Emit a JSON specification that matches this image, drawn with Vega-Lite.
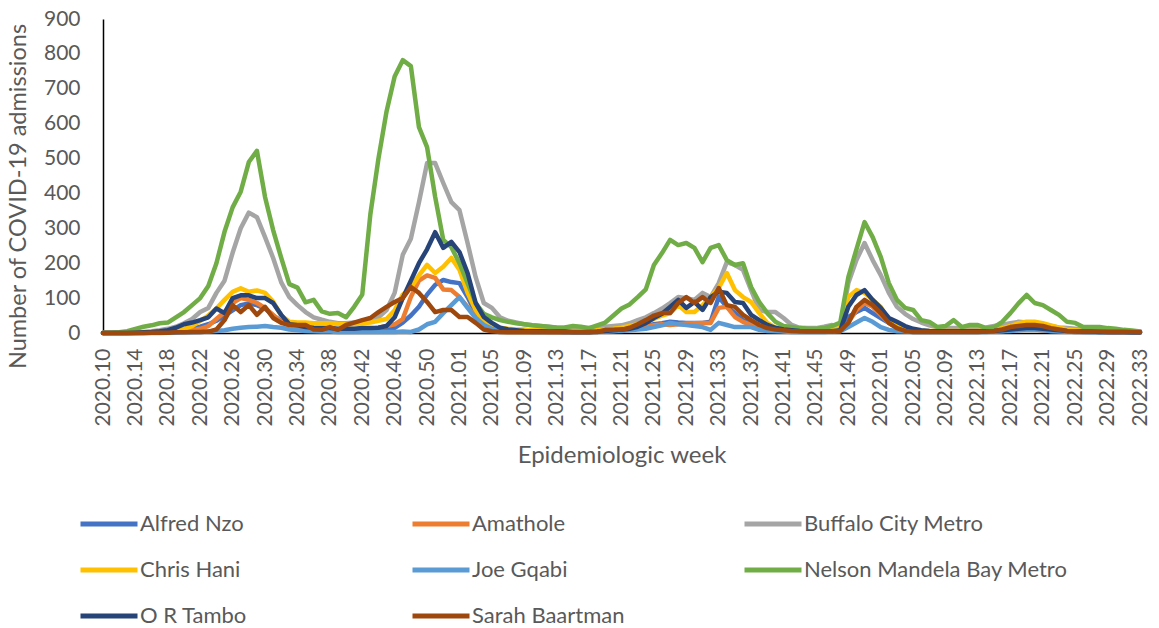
{
"$schema":"https://vega.github.io/schema/vega-lite/v6.json",
"autosize":{"type":"none"},
"padding":{"left":103,"top":19,"right":19,"bottom":295},
"width":1037,"height":314,
"background":"white",
"config":{"view":{"stroke":null},"font":"Lato"},
"datasets":{
"names":[{"k":"a","name":"Alfred Nzo"},{"k":"m","name":"Amathole"},{"k":"b","name":"Buffalo City Metro"},{"k":"c","name":"Chris Hani"},{"k":"j","name":"Joe Gqabi"},{"k":"n","name":"Nelson Mandela Bay Metro"},{"k":"o","name":"O R Tambo"},{"k":"s","name":"Sarah Baartman"}],
"weeks":[
{"w":"2020.10","a":0,"m":0,"b":0,"c":0,"j":0,"n":0,"o":0,"s":0},
{"w":"2020.11","a":0,"m":0,"b":0,"c":0,"j":0,"n":1,"o":0,"s":0},
{"w":"2020.12","a":0,"m":0,"b":0,"c":0,"j":0,"n":2,"o":0,"s":0},
{"w":"2020.13","a":0,"m":0,"b":1,"c":0,"j":0,"n":5,"o":0,"s":0},
{"w":"2020.14","a":0,"m":0,"b":2,"c":1,"j":0,"n":12,"o":1,"s":0},
{"w":"2020.15","a":1,"m":0,"b":3,"c":1,"j":0,"n":18,"o":2,"s":0},
{"w":"2020.16","a":1,"m":1,"b":5,"c":2,"j":0,"n":22,"o":3,"s":1},
{"w":"2020.17","a":2,"m":1,"b":8,"c":3,"j":0,"n":28,"o":5,"s":1},
{"w":"2020.18","a":3,"m":2,"b":12,"c":5,"j":1,"n":30,"o":8,"s":1},
{"w":"2020.19","a":5,"m":3,"b":18,"c":8,"j":1,"n":45,"o":15,"s":2},
{"w":"2020.20","a":8,"m":5,"b":28,"c":12,"j":2,"n":60,"o":25,"s":2},
{"w":"2020.21","a":12,"m":8,"b":40,"c":20,"j":2,"n":80,"o":30,"s":3},
{"w":"2020.22","a":18,"m":12,"b":60,"c":35,"j":3,"n":100,"o":37,"s":3},
{"w":"2020.23","a":25,"m":20,"b":72,"c":50,"j":4,"n":135,"o":45,"s":4},
{"w":"2020.24","a":35,"m":40,"b":115,"c":70,"j":6,"n":200,"o":70,"s":10},
{"w":"2020.25","a":50,"m":60,"b":150,"c":95,"j":8,"n":290,"o":57,"s":37},
{"w":"2020.26","a":65,"m":86,"b":230,"c":118,"j":12,"n":360,"o":100,"s":80},
{"w":"2020.27","a":80,"m":100,"b":300,"c":128,"j":15,"n":405,"o":108,"s":60},
{"w":"2020.28","a":85,"m":95,"b":345,"c":118,"j":17,"n":490,"o":108,"s":80},
{"w":"2020.29","a":80,"m":86,"b":332,"c":122,"j":18,"n":522,"o":100,"s":52},
{"w":"2020.30","a":70,"m":72,"b":275,"c":115,"j":20,"n":390,"o":100,"s":75},
{"w":"2020.31","a":50,"m":52,"b":215,"c":90,"j":17,"n":295,"o":86,"s":43},
{"w":"2020.32","a":35,"m":32,"b":145,"c":50,"j":15,"n":215,"o":52,"s":29},
{"w":"2020.33","a":25,"m":22,"b":103,"c":32,"j":10,"n":140,"o":25,"s":23},
{"w":"2020.34","a":18,"m":17,"b":80,"c":30,"j":8,"n":130,"o":22,"s":23},
{"w":"2020.35","a":15,"m":15,"b":60,"c":30,"j":6,"n":88,"o":17,"s":23},
{"w":"2020.36","a":12,"m":12,"b":45,"c":28,"j":5,"n":95,"o":15,"s":10},
{"w":"2020.37","a":10,"m":10,"b":38,"c":28,"j":4,"n":62,"o":14,"s":9},
{"w":"2020.38","a":10,"m":10,"b":32,"c":28,"j":4,"n":55,"o":14,"s":17},
{"w":"2020.39","a":8,"m":8,"b":28,"c":26,"j":3,"n":57,"o":12,"s":9},
{"w":"2020.40","a":8,"m":8,"b":28,"c":25,"j":3,"n":45,"o":12,"s":23},
{"w":"2020.41","a":8,"m":8,"b":30,"c":25,"j":3,"n":75,"o":12,"s":30},
{"w":"2020.42","a":8,"m":10,"b":32,"c":28,"j":3,"n":110,"o":14,"s":37},
{"w":"2020.43","a":10,"m":12,"b":35,"c":30,"j":3,"n":340,"o":14,"s":43},
{"w":"2020.44","a":12,"m":15,"b":45,"c":35,"j":3,"n":500,"o":15,"s":60},
{"w":"2020.45","a":12,"m":20,"b":66,"c":40,"j":3,"n":635,"o":20,"s":75},
{"w":"2020.46","a":15,"m":25,"b":115,"c":65,"j":3,"n":735,"o":45,"s":89},
{"w":"2020.47","a":30,"m":40,"b":224,"c":110,"j":4,"n":782,"o":100,"s":100},
{"w":"2020.48","a":50,"m":103,"b":270,"c":130,"j":3,"n":765,"o":150,"s":132},
{"w":"2020.49","a":75,"m":150,"b":375,"c":165,"j":10,"n":590,"o":200,"s":115},
{"w":"2020.50","a":110,"m":165,"b":487,"c":195,"j":25,"n":533,"o":240,"s":89},
{"w":"2020.51","a":138,"m":158,"b":487,"c":172,"j":32,"n":390,"o":289,"s":60},
{"w":"2020.52","a":152,"m":125,"b":430,"c":190,"j":57,"n":267,"o":244,"s":66},
{"w":"2020.53","a":146,"m":123,"b":375,"c":215,"j":80,"n":246,"o":261,"s":66},
{"w":"2021.01","a":143,"m":103,"b":352,"c":181,"j":103,"n":200,"o":232,"s":46},
{"w":"2021.02","a":103,"m":75,"b":258,"c":115,"j":72,"n":143,"o":172,"s":46},
{"w":"2021.03","a":57,"m":46,"b":160,"c":66,"j":43,"n":86,"o":86,"s":29},
{"w":"2021.04","a":29,"m":23,"b":86,"c":32,"j":23,"n":55,"o":46,"s":10},
{"w":"2021.05","a":15,"m":12,"b":72,"c":20,"j":12,"n":45,"o":29,"s":5},
{"w":"2021.06","a":10,"m":8,"b":45,"c":15,"j":8,"n":37,"o":15,"s":3},
{"w":"2021.07","a":8,"m":6,"b":35,"c":12,"j":6,"n":32,"o":10,"s":2},
{"w":"2021.08","a":6,"m":5,"b":30,"c":10,"j":5,"n":28,"o":8,"s":2},
{"w":"2021.09","a":5,"m":5,"b":25,"c":10,"j":4,"n":25,"o":6,"s":2},
{"w":"2021.10","a":5,"m":4,"b":22,"c":8,"j":3,"n":22,"o":5,"s":2},
{"w":"2021.11","a":4,"m":4,"b":20,"c":8,"j":3,"n":20,"o":5,"s":2},
{"w":"2021.12","a":4,"m":3,"b":18,"c":7,"j":3,"n":18,"o":4,"s":2},
{"w":"2021.13","a":4,"m":3,"b":16,"c":6,"j":3,"n":15,"o":4,"s":2},
{"w":"2021.14","a":3,"m":3,"b":15,"c":6,"j":2,"n":16,"o":4,"s":2},
{"w":"2021.15","a":3,"m":3,"b":14,"c":6,"j":2,"n":20,"o":3,"s":2},
{"w":"2021.16","a":3,"m":3,"b":14,"c":6,"j":2,"n":18,"o":3,"s":2},
{"w":"2021.17","a":3,"m":3,"b":14,"c":6,"j":2,"n":14,"o":3,"s":2},
{"w":"2021.18","a":4,"m":4,"b":16,"c":8,"j":3,"n":22,"o":4,"s":3},
{"w":"2021.19","a":5,"m":5,"b":18,"c":10,"j":4,"n":30,"o":6,"s":9},
{"w":"2021.20","a":8,"m":6,"b":20,"c":12,"j":5,"n":50,"o":8,"s":9},
{"w":"2021.21","a":10,"m":8,"b":22,"c":15,"j":6,"n":70,"o":10,"s":9},
{"w":"2021.22","a":12,"m":10,"b":28,"c":20,"j":8,"n":82,"o":12,"s":15},
{"w":"2021.23","a":15,"m":14,"b":37,"c":25,"j":10,"n":103,"o":18,"s":25},
{"w":"2021.24","a":20,"m":18,"b":45,"c":32,"j":12,"n":125,"o":28,"s":37},
{"w":"2021.25","a":25,"m":22,"b":57,"c":40,"j":17,"n":195,"o":43,"s":50},
{"w":"2021.26","a":28,"m":25,"b":70,"c":50,"j":22,"n":229,"o":55,"s":57},
{"w":"2021.27","a":32,"m":23,"b":86,"c":57,"j":29,"n":267,"o":75,"s":57},
{"w":"2021.28","a":30,"m":25,"b":103,"c":80,"j":25,"n":252,"o":95,"s":86},
{"w":"2021.29","a":29,"m":27,"b":100,"c":60,"j":23,"n":258,"o":72,"s":103},
{"w":"2021.30","a":29,"m":28,"b":95,"c":60,"j":20,"n":244,"o":89,"s":86},
{"w":"2021.31","a":29,"m":29,"b":115,"c":80,"j":17,"n":203,"o":66,"s":103},
{"w":"2021.32","a":32,"m":29,"b":103,"c":103,"j":9,"n":244,"o":103,"s":86},
{"w":"2021.33","a":103,"m":72,"b":143,"c":129,"j":29,"n":252,"o":118,"s":129},
{"w":"2021.34","a":75,"m":75,"b":203,"c":172,"j":23,"n":209,"o":115,"s":80},
{"w":"2021.35","a":57,"m":46,"b":195,"c":123,"j":17,"n":195,"o":89,"s":75},
{"w":"2021.36","a":37,"m":32,"b":181,"c":103,"j":17,"n":200,"o":86,"s":52},
{"w":"2021.37","a":29,"m":23,"b":123,"c":89,"j":17,"n":132,"o":52,"s":37},
{"w":"2021.38","a":17,"m":15,"b":66,"c":57,"j":9,"n":89,"o":37,"s":23},
{"w":"2021.39","a":12,"m":10,"b":60,"c":29,"j":6,"n":57,"o":23,"s":14},
{"w":"2021.40","a":8,"m":8,"b":60,"c":15,"j":5,"n":32,"o":15,"s":10},
{"w":"2021.41","a":6,"m":6,"b":43,"c":10,"j":4,"n":20,"o":10,"s":8},
{"w":"2021.42","a":5,"m":5,"b":23,"c":8,"j":3,"n":17,"o":8,"s":6},
{"w":"2021.43","a":4,"m":4,"b":15,"c":6,"j":3,"n":14,"o":6,"s":5},
{"w":"2021.44","a":4,"m":4,"b":14,"c":6,"j":3,"n":12,"o":5,"s":5},
{"w":"2021.45","a":4,"m":4,"b":14,"c":6,"j":3,"n":12,"o":5,"s":5},
{"w":"2021.46","a":4,"m":4,"b":18,"c":6,"j":3,"n":14,"o":5,"s":5},
{"w":"2021.47","a":5,"m":5,"b":23,"c":8,"j":4,"n":20,"o":5,"s":5},
{"w":"2021.48","a":8,"m":8,"b":14,"c":15,"j":5,"n":30,"o":8,"s":6},
{"w":"2021.49","a":46,"m":30,"b":143,"c":103,"j":17,"n":160,"o":75,"s":29},
{"w":"2021.50","a":60,"m":66,"b":209,"c":123,"j":30,"n":240,"o":109,"s":75},
{"w":"2021.51","a":72,"m":86,"b":258,"c":115,"j":43,"n":318,"o":123,"s":95},
{"w":"2021.52","a":57,"m":75,"b":209,"c":95,"j":32,"n":275,"o":95,"s":80},
{"w":"2022.01","a":43,"m":52,"b":166,"c":75,"j":17,"n":218,"o":72,"s":57},
{"w":"2022.02","a":29,"m":29,"b":115,"c":37,"j":9,"n":143,"o":43,"s":29},
{"w":"2022.03","a":15,"m":15,"b":75,"c":20,"j":5,"n":95,"o":32,"s":14},
{"w":"2022.04","a":10,"m":10,"b":55,"c":12,"j":4,"n":72,"o":20,"s":6},
{"w":"2022.05","a":6,"m":6,"b":40,"c":8,"j":3,"n":66,"o":12,"s":3},
{"w":"2022.06","a":5,"m":5,"b":30,"c":6,"j":3,"n":37,"o":8,"s":3},
{"w":"2022.07","a":4,"m":4,"b":22,"c":6,"j":3,"n":32,"o":6,"s":3},
{"w":"2022.08","a":4,"m":4,"b":16,"c":6,"j":3,"n":17,"o":5,"s":3},
{"w":"2022.09","a":4,"m":4,"b":14,"c":6,"j":3,"n":20,"o":5,"s":3},
{"w":"2022.10","a":4,"m":4,"b":14,"c":6,"j":3,"n":37,"o":5,"s":3},
{"w":"2022.11","a":4,"m":4,"b":14,"c":6,"j":3,"n":17,"o":5,"s":3},
{"w":"2022.12","a":4,"m":4,"b":14,"c":6,"j":3,"n":23,"o":5,"s":3},
{"w":"2022.13","a":4,"m":4,"b":14,"c":6,"j":3,"n":23,"o":5,"s":3},
{"w":"2022.14","a":4,"m":4,"b":16,"c":8,"j":3,"n":14,"o":5,"s":4},
{"w":"2022.15","a":5,"m":5,"b":20,"c":10,"j":4,"n":17,"o":6,"s":6},
{"w":"2022.16","a":6,"m":6,"b":24,"c":14,"j":5,"n":32,"o":8,"s":10},
{"w":"2022.17","a":8,"m":8,"b":28,"c":20,"j":6,"n":57,"o":10,"s":17},
{"w":"2022.18","a":10,"m":10,"b":32,"c":28,"j":8,"n":85,"o":12,"s":20},
{"w":"2022.19","a":12,"m":10,"b":30,"c":32,"j":10,"n":109,"o":14,"s":23},
{"w":"2022.20","a":12,"m":10,"b":28,"c":32,"j":10,"n":86,"o":14,"s":23},
{"w":"2022.21","a":10,"m":8,"b":24,"c":28,"j":8,"n":80,"o":12,"s":20},
{"w":"2022.22","a":8,"m":6,"b":20,"c":22,"j":6,"n":66,"o":10,"s":14},
{"w":"2022.23","a":6,"m":5,"b":16,"c":15,"j":5,"n":52,"o":8,"s":10},
{"w":"2022.24","a":5,"m":4,"b":14,"c":10,"j":4,"n":32,"o":6,"s":6},
{"w":"2022.25","a":4,"m":3,"b":12,"c":8,"j":3,"n":29,"o":5,"s":5},
{"w":"2022.26","a":3,"m":3,"b":10,"c":6,"j":3,"n":17,"o":4,"s":4},
{"w":"2022.27","a":3,"m":3,"b":9,"c":5,"j":2,"n":17,"o":4,"s":4},
{"w":"2022.28","a":3,"m":3,"b":8,"c":5,"j":2,"n":17,"o":3,"s":4},
{"w":"2022.29","a":3,"m":2,"b":8,"c":4,"j":2,"n":14,"o":3,"s":3},
{"w":"2022.30","a":2,"m":2,"b":7,"c":4,"j":2,"n":12,"o":3,"s":3},
{"w":"2022.31","a":2,"m":2,"b":6,"c":3,"j":2,"n":9,"o":3,"s":3},
{"w":"2022.32","a":2,"m":2,"b":5,"c":3,"j":1,"n":7,"o":2,"s":3},
{"w":"2022.33","a":2,"m":2,"b":5,"c":3,"j":1,"n":4,"o":2,"s":2}
]},
"data":{"name":"weeks"},
"transform":[
{"fold":["a","m","b","c","j","n","o","s"],"as":["key","value"]},
{"lookup":"key","from":{"data":{"name":"names"},"key":"k","fields":["name"]}}
],
"mark":{"type":"line","strokeWidth":4.5,"strokeJoin":"round","strokeCap":"round"},
"encoding":{
"x":{"field":"w","type":"ordinal","scale":{"type":"point","padding":0},
"axis":{"title":"Epidemiologic week","values":["2020.10","2020.14","2020.18","2020.22","2020.26","2020.30","2020.34","2020.38","2020.42","2020.46","2020.50","2021.01","2021.05","2021.09","2021.13","2021.17","2021.21","2021.25","2021.29","2021.33","2021.37","2021.41","2021.45","2021.49","2022.01","2022.05","2022.09","2022.13","2022.17","2022.21","2022.25","2022.29","2022.33"],
"labelAngle":-90,"labelFontSize":21,"labelColor":"#595959","labelPadding":15,"ticks":false,"grid":false,"domainColor":"#000000","domainWidth":1.5,
"titleFontSize":24,"titleFontWeight":"normal","titleColor":"#595959","titleY":122,"titleBaseline":"middle"}},
"y":{"field":"value","type":"quantitative","scale":{"domain":[0,900]},
"axis":{"title":"Number of COVID-19 admissions","values":[0,100,200,300,400,500,600,700,800,900],"labelFontSize":21,"labelColor":"#595959","labelPadding":23,"ticks":false,"grid":false,"domainColor":"#000000","domainWidth":1.5,
"titleFontSize":23.5,"titleFontWeight":"normal","titleColor":"#595959","titleX":-85,"titleY":177,"titleAngle":-90,"titleBaseline":"middle","titleAlign":"center"}},
"color":{"field":"name","type":"nominal",
"scale":{"domain":["Alfred Nzo","Amathole","Buffalo City Metro","Chris Hani","Joe Gqabi","Nelson Mandela Bay Metro","O R Tambo","Sarah Baartman"],"range":["#4472C4","#ED7D31","#A5A5A5","#FFC000","#5B9BD5","#70AD47","#264478","#9E480E"]},
"legend":{"title":null,"orient":"none","direction":"horizontal","legendX":-25,"legendY":474,"columns":3,"gridAlign":"all","columnPadding":-2,"rowPadding":4,"symbolType":"stroke","symbolSize":3249,"symbolStrokeWidth":5,"labelFontSize":22,"labelColor":"#595959","labelOffset":0,"labelLimit":400,"padding":0}}
}
}
